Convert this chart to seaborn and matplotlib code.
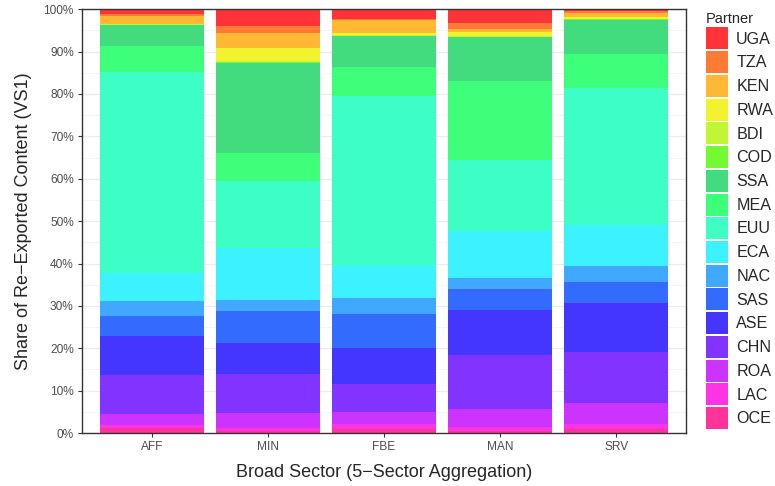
import numpy as np
import pandas as pd
import matplotlib
matplotlib.use("Agg")
import matplotlib.pyplot as plt
import seaborn as sns
from matplotlib.patches import Patch
from matplotlib.ticker import PercentFormatter, MultipleLocator

sectors = ["AFF", "MIN", "FBE", "MAN", "SRV"]
# legend / stacking order, top of bar first
partners = ["UGA", "TZA", "KEN", "RWA", "BDI", "COD", "SSA", "MEA", "EUU",
            "ECA", "NAC", "SAS", "ASE", "CHN", "ROA", "LAC", "OCE"]

# shares (%) per sector, in the same order as partners
aff = [1.2, 0.4, 1.8, 0.2, 0.1, 0.1, 4.9, 6.2, 47.4, 6.6, 3.5, 4.8, 9.1, 9.3, 2.5, 0.8, 1.1]
min_ = [4.0, 1.5, 3.6, 3.2, 0.2, 0.2, 21.2, 6.6, 15.9, 12.2, 2.5, 7.7, 7.2, 9.3, 3.4, 0.8, 0.5]
fbe = [2.3, 0.3, 3.0, 0.5, 0.1, 0.2, 7.3, 6.7, 40.0, 7.8, 3.8, 8.0, 8.4, 6.6, 2.9, 1.1, 1.0]
man = [3.3, 1.4, 0.7, 1.0, 0.1, 0.1, 10.3, 18.7, 16.8, 11.0, 2.7, 4.9, 10.6, 12.8, 4.2, 0.9, 0.5]
srv = [0.5, 0.5, 0.8, 0.4, 0.2, 0.2, 7.9, 8.2, 32.3, 9.6, 3.8, 4.9, 11.5, 12.2, 4.9, 1.1, 1.0]

colors = ["#FF3338", "#FF7A33", "#FFB833", "#F2F22E", "#C2F533", "#73FA33",
          "#42DB7D", "#3DFF7A", "#3DFFC6", "#3DF2FF", "#40A8FF", "#336BFF",
          "#4536FF", "#8233FF", "#CC33FF", "#FF33E6", "#FF3399"]

rows = []
for sec, vals in zip(sectors, [aff, min_, fbe, man, srv]):
    for p, v in zip(partners, vals):
        rows.append({"Sector": sec, "Partner": p, "Share": v})
df = pd.DataFrame(rows)
df["Sector"] = pd.Categorical(df["Sector"], categories=sectors, ordered=True)
df["Partner"] = pd.Categorical(df["Partner"], categories=partners, ordered=True)

sns.set_style("white")
plt.rcParams["font.family"] = ["Liberation Sans", "DejaVu Sans"]

fig, ax = plt.subplots(figsize=(7.75, 4.86), dpi=100)
fig.subplots_adjust(left=0.106, right=0.885, top=0.981, bottom=0.109)

sns.histplot(data=df, x="Sector", hue="Partner", weights="Share",
             hue_order=partners, palette=colors, multiple="fill",
             discrete=True, shrink=0.9, alpha=1, linewidth=0,
             legend=False, ax=ax)

ax.set_xlim(-0.6, 4.6)
ax.set_ylim(0, 1)
ax.yaxis.set_major_locator(MultipleLocator(0.1))
ax.yaxis.set_minor_locator(MultipleLocator(0.05))
ax.yaxis.set_major_formatter(PercentFormatter(1.0, decimals=0))
ax.set_axisbelow(True)
ax.grid(which="major", color="#EBEBEB", linewidth=0.9)
ax.grid(which="minor", color="#F4F4F4", linewidth=0.6)
ax.grid(axis="x", which="both", visible=False)

for s in ax.spines.values():
    s.set_color("#333333")
    s.set_linewidth(1.0)

ax.tick_params(axis="both", which="major", length=3, width=0.8, color="#333333",
               labelsize=8.6, labelcolor="#4D4D4D", direction="out", pad=3)
ax.tick_params(axis="y", which="minor", length=0)
ax.tick_params(left=True, bottom=True)

ax.set_xlabel("Broad Sector (5\u2212Sector Aggregation)", fontsize=13, labelpad=8)
ax.set_ylabel("Share of Re\u2212Exported Content (VS1)", fontsize=13, labelpad=8)

handles = [Patch(facecolor=c, edgecolor="none") for c in colors]
leg = fig.legend(handles, partners, title="Partner", loc="upper left",
                 bbox_to_anchor=(0.911, 0.976), frameon=False, fontsize=11.6,
                 title_fontsize=10.5, handlelength=1.37, handleheight=1.72,
                 labelspacing=0.11, handletextpad=0.5, borderpad=0,
                 borderaxespad=0)
leg._legend_box.align = "left"

fig.savefig("out.png", dpi=100)
